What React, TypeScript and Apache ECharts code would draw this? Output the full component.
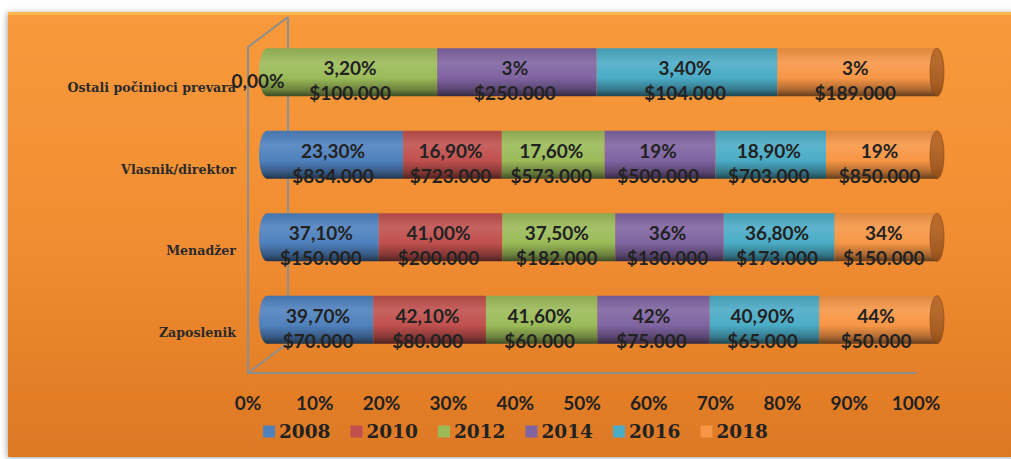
import React, { useEffect, useRef } from 'react';
import * as echarts from 'echarts';

const categories = ['Zaposlenik', 'Menadžer', 'Vlasnik/direktor', 'Ostali počinioci prevara'];
const years = ['2008', '2010', '2012', '2014', '2016', '2018'];

const pct2008 = [39.7, 37.1, 23.3, 0];
const pct2010 = [42.1, 41.0, 16.9, 0];
const pct2012 = [41.6, 37.5, 17.6, 3.2];
const pct2014 = [42, 36, 19, 3];
const pct2016 = [40.9, 36.8, 18.9, 3.4];
const pct2018 = [44, 34, 19, 3];

const pctText2008 = ['39,70%', '37,10%', '23,30%', '0,00%'];
const pctText2010 = ['42,10%', '41,00%', '16,90%', ''];
const pctText2012 = ['41,60%', '37,50%', '17,60%', '3,20%'];
const pctText2014 = ['42%', '36%', '19%', '3%'];
const pctText2016 = ['40,90%', '36,80%', '18,90%', '3,40%'];
const pctText2018 = ['44%', '34%', '19%', '3%'];

const usd2008 = ['$70.000', '$150.000', '$834.000', ''];
const usd2010 = ['$80.000', '$200.000', '$723.000', ''];
const usd2012 = ['$60.000', '$182.000', '$573.000', '$100.000'];
const usd2014 = ['$75.000', '$130.000', '$500.000', '$250.000'];
const usd2016 = ['$65.000', '$173.000', '$703.000', '$104.000'];
const usd2018 = ['$50.000', '$150.000', '$850.000', '$189.000'];

const pcts = [pct2008, pct2010, pct2012, pct2014, pct2016, pct2018];
const pctTexts = [pctText2008, pctText2010, pctText2012, pctText2014, pctText2016, pctText2018];
const usds = [usd2008, usd2010, usd2012, usd2014, usd2016, usd2018];

const colors = ['#4f81bd', '#c0504d', '#9bbb59', '#8064a2', '#4bacc6', '#f79646'];

function hexToRgb(h: string) {
  const v = parseInt(h.slice(1), 16);
  return [(v >> 16) & 255, (v >> 8) & 255, v & 255];
}
function mix(a: string, b: string, t: number) {
  const x = hexToRgb(a);
  const y = hexToRgb(b);
  const r = x.map((c, i) => Math.round(c + (y[i] - c) * t));
  return `rgb(${r[0]},${r[1]},${r[2]})`;
}
function cyl(base: string) {
  return new echarts.graphic.LinearGradient(0, 0, 0, 1, [
    { offset: 0, color: mix(base, '#000000', 0.1) },
    { offset: 0.3, color: mix(base, '#ffffff', 0.1) },
    { offset: 0.62, color: base },
    { offset: 0.86, color: mix(base, '#000000', 0.3) },
    { offset: 1, color: mix(base, '#000000', 0.6) },
  ]);
}

export default function App() {
  const ref = useRef<HTMLDivElement>(null);
  useEffect(() => {
    if (!ref.current) return;
    const chart = echarts.init(ref.current, undefined, { renderer: 'svg' });

    const sums = categories.map((_, ci) => pcts.reduce((s, arr) => s + arr[ci], 0));
    const shares = pcts.map((arr) => arr.map((v, ci) => (v / sums[ci]) * 100));
    const firstIdx = categories.map((_, ci) => {
      const k = pcts.findIndex((arr) => arr[ci] > 0);
      return k < 0 ? 0 : k;
    });

    const labelFont = 'Lato';
    const serifFont = 'DejaVu Serif';
    const BAR_H = 48;

    const barSeries = years.map((y, i) => ({
      type: 'bar',
      name: y,
      stack: 'total',
      xAxisIndex: 0,
      yAxisIndex: 0,
      barWidth: BAR_H,
      z: 2,
      data: shares[i].map((v) => (v === 0 ? { value: v, label: { offset: [-9, 8] } } : v)),
      itemStyle: { color: cyl(colors[i]) },
      label: {
        show: true,
        position: 'inside',
        offset: [-2, 8],
        color: '#222222',
        fontFamily: labelFont,
        fontWeight: 'bold',
        fontSize: 19,
        lineHeight: 25,
        formatter: (p: any) => {
          const t = pctTexts[i][p.dataIndex];
          const u = usds[i][p.dataIndex];
          if (!t) return '';
          return u ? `${t}\n${u}` : t;
        },
      },
    }));

    const leftCaps = {
      type: 'custom',
      xAxisIndex: 0,
      yAxisIndex: 0,
      z: 1,
      silent: true,
      data: categories.map((_, ci) => [0, ci, firstIdx[ci]]),
      renderItem: (params: any, api: any) => {
        const pt = api.coord([api.value(0), api.value(1)]);
        const idx = api.value(2);
        return {
          type: 'ellipse',
          shape: { cx: pt[0], cy: pt[1], rx: 8, ry: BAR_H / 2 },
          style: { fill: cyl(colors[idx]) },
        };
      },
    };

    const capGrad = new echarts.graphic.LinearGradient(0, 0, 0, 1, [
      { offset: 0, color: '#b86a2a' },
      { offset: 0.35, color: '#b56a2c' },
      { offset: 0.8, color: '#a35b20' },
      { offset: 1, color: '#8a4b18' },
    ]);
    const rightCaps = {
      type: 'custom',
      xAxisIndex: 0,
      yAxisIndex: 0,
      z: 3,
      silent: true,
      data: categories.map((_, ci) => [100, ci]),
      renderItem: (params: any, api: any) => {
        const pt = api.coord([api.value(0), api.value(1)]);
        return {
          type: 'ellipse',
          shape: { cx: pt[0], cy: pt[1], rx: 7, ry: BAR_H / 2 },
          style: { fill: capGrad, stroke: 'rgba(120,60,20,0.5)', lineWidth: 1 },
        };
      },
    };

    const frame = '#8e8e8e';
    chart.setOption({
      animation: false,
      backgroundColor: '#ffffff',
      graphic: [
        {
          type: 'rect',
          z: -10,
          shape: { x: 8, y: 12, width: 1010, height: 445 },
          style: {
            fill: new echarts.graphic.LinearGradient(0, 0, 0, 1, [
              { offset: 0, color: '#f89a3c' },
              { offset: 0.5, color: '#f18d32' },
              { offset: 1, color: '#dd7824' },
            ]),
            shadowBlur: 6,
            shadowColor: 'rgba(0,0,0,0.35)',
            shadowOffsetX: -1,
            shadowOffsetY: 1,
          },
        },
        {
          type: 'rect',
          z: -9,
          shape: { x: 8, y: 12, width: 1010, height: 3 },
          style: { fill: '#fbb84e' },
        },
        { type: 'line', z: 1, shape: { x1: 288, y1: 17, x2: 288, y2: 343 }, style: { stroke: frame, lineWidth: 2 } },
        { type: 'line', z: 1, shape: { x1: 248, y1: 47, x2: 288, y2: 17 }, style: { stroke: frame, lineWidth: 2 } },
        { type: 'line', z: 1, shape: { x1: 248, y1: 373, x2: 288, y2: 343 }, style: { stroke: frame, lineWidth: 2 } },
      ],
      grid: [
        { left: 267, top: 31, width: 670, height: 330 },
        { left: 248, top: 47, width: 668, height: 326 },
      ],
      xAxis: [
        { type: 'value', gridIndex: 0, min: 0, max: 100, show: false },
        {
          type: 'value',
          gridIndex: 1,
          min: 0,
          max: 100,
          interval: 10,
          axisLine: { show: true, lineStyle: { color: frame, width: 2 } },
          axisTick: { show: false },
          splitLine: { show: false },
          axisLabel: {
            formatter: '{value}%',
            margin: 20,
            color: '#222222',
            fontFamily: labelFont,
            fontWeight: 'bold',
            fontSize: 19,
          },
        },
      ],
      yAxis: [
        { type: 'category', gridIndex: 0, data: categories, show: false },
        {
          type: 'category',
          gridIndex: 1,
          data: categories,
          axisLine: { show: true, lineStyle: { color: frame, width: 2 } },
          axisTick: { show: false },
          splitLine: { show: false },
          axisLabel: {
            margin: 12,
            color: '#2a2a2a',
            fontFamily: serifFont,
            fontWeight: 'bold',
            fontSize: 12.6,
          },
        },
      ],
      legend: {
        left: 263,
        top: 422,
        padding: 0,
        itemWidth: 12,
        itemHeight: 12,
        itemGap: 20,
        icon: 'rect',
        textStyle: {
          color: '#222222',
          fontFamily: serifFont,
          fontWeight: 'bold',
          fontSize: 18.5,
          padding: [0, 0, 0, -1],
        },
        data: years.map((y, i) => ({ name: y, itemStyle: { color: colors[i] } })),
      },
      series: [leftCaps, ...barSeries, rightCaps],
    });
    return () => chart.dispose();
  }, []);
  return <div ref={ref} style={{ position: 'absolute', left: 0, top: 0, width: 1011, height: 459 }} />;
}
